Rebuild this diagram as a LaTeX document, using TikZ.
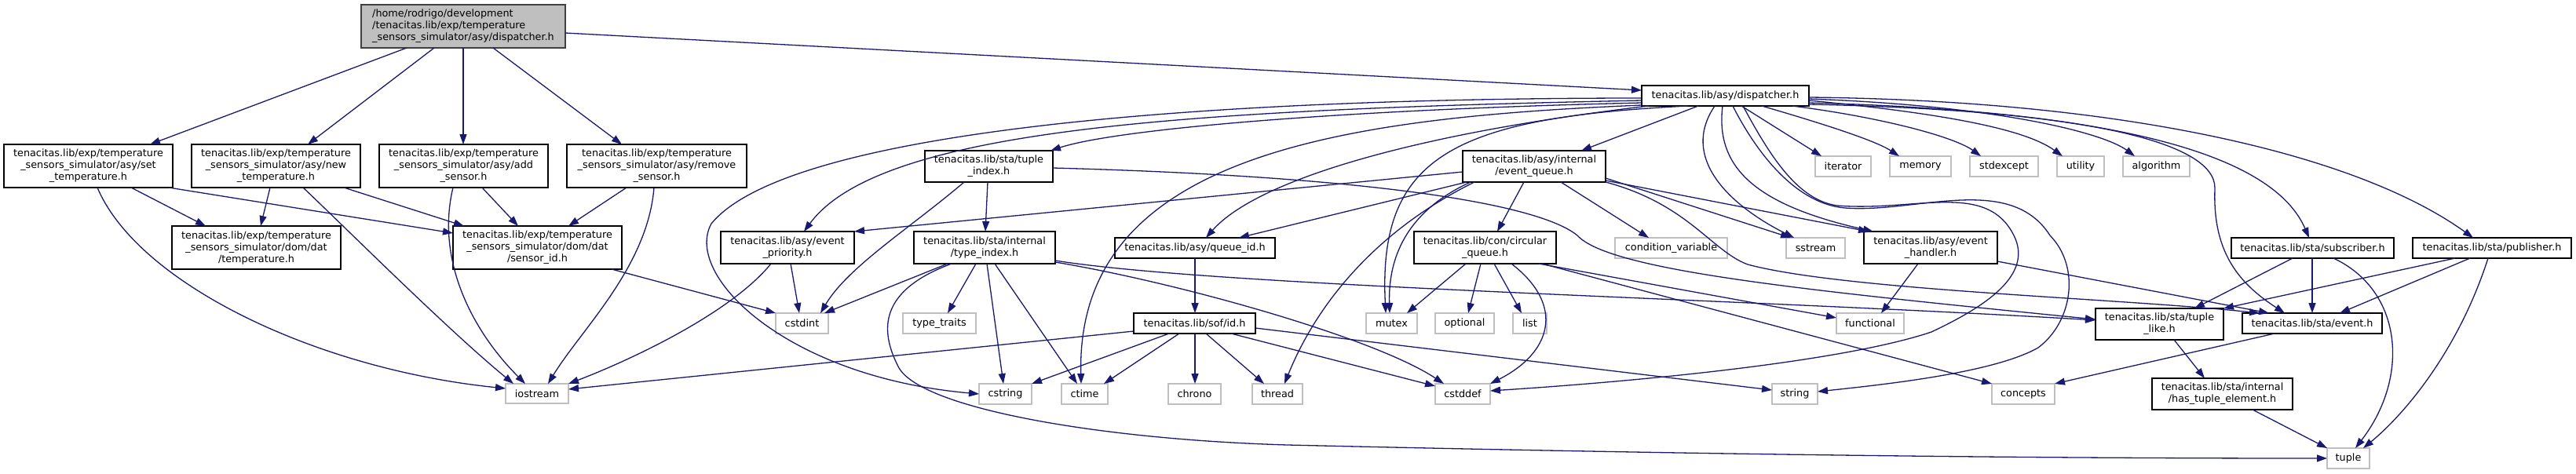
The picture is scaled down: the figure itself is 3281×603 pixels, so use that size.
\documentclass[tikz,border=0pt]{standalone}
\usepackage{fontspec}
\setmainfont{DejaVu Sans}
\usetikzlibrary{arrows.meta}
\definecolor{edgec}{HTML}{191970}
\definecolor{sysb}{HTML}{BFBFBF}
\definecolor{rootf}{HTML}{BFBFBF}
\definecolor{boxb}{HTML}{404040}
\begin{document}
\begin{tikzpicture}[x=1pt,y=-1pt,
  base/.style={inner sep=0pt, outer sep=0pt, line width=1.4pt, fill=white, align=center, font=\fontsize{12.8pt}{15pt}\selectfont},
  box/.style={base, draw=black},
  sys/.style={base, draw=sysb},
  rootbox/.style={base, draw=boxb, fill=rootf, align=left},
  edge/.style={draw=edgec, line width=1.3pt, -{Triangle[length=13pt,width=9pt]}}]
\fill[white] (0,0) rectangle (3281,603);
\useasboundingbox (0,0) rectangle (3281,603);
% nodes
\node[rootbox, minimum width=260pt, minimum height=55pt] (R) at (590,33.5) {/home/rodrigo/development\\/tenacitas.lib/exp/temperature\\\_sensors\_simulator/asy/dispatcher.h};
\node[box, minimum width=215pt, minimum height=55pt] (A1) at (112.5,211.5) {tenacitas.lib/exp/temperature\\\_sensors\_simulator/asy/set\\\_temperature.h};
\node[box, minimum width=215pt, minimum height=55pt] (A2) at (351.5,211.5) {tenacitas.lib/exp/temperature\\\_sensors\_simulator/asy/new\\\_temperature.h};
\node[box, minimum width=215pt, minimum height=55pt] (A3) at (590.5,211.5) {tenacitas.lib/exp/temperature\\\_sensors\_simulator/asy/add\\\_sensor.h};
\node[box, minimum width=229pt, minimum height=55pt] (A4) at (836.5,211.5) {tenacitas.lib/exp/temperature\\\_sensors\_simulator/asy/remove\\\_sensor.h};
\node[box, minimum width=215pt, minimum height=55pt] (TEMP) at (326.5,315.5) {tenacitas.lib/exp/temperature\\\_sensors\_simulator/dom/dat\\/temperature.h};
\node[box, minimum width=215pt, minimum height=55pt] (SID) at (684.5,315.5) {tenacitas.lib/exp/temperature\\\_sensors\_simulator/dom/dat\\/sensor\_id.h};
\node[sys, minimum width=80pt, minimum height=25pt] (IOS) at (684,501.5) {iostream};
\node[box, minimum width=163pt, minimum height=40pt] (TIDX) at (1259.5,212) {tenacitas.lib/sta/tuple\\\_index.h};
\node[box, minimum width=170pt, minimum height=41pt] (EPRI) at (1003,315.5) {tenacitas.lib/asy/event\\\_priority.h};
\node[box, minimum width=180pt, minimum height=41pt] (TYPIDX) at (1254,315.5) {tenacitas.lib/sta/internal\\/type\_index.h};
\node[box, minimum width=204pt, minimum height=26pt] (QID) at (1522,316) {tenacitas.lib/asy/queue\_id.h};
\node[sys, minimum width=67pt, minimum height=26pt] (CSTDINT) at (1021.5,412) {cstdint};
\node[sys, minimum width=93pt, minimum height=26pt] (TYPETR) at (1196.5,412) {type\_traits};
\node[box, minimum width=155pt, minimum height=26pt] (SOFID) at (1521.5,412) {tenacitas.lib/sof/id.h};
\node[sys, minimum width=67pt, minimum height=26pt] (CSTRING) at (1280.5,502) {cstring};
\node[sys, minimum width=59pt, minimum height=26pt] (CTIME) at (1381.5,502) {ctime};
\node[sys, minimum width=67pt, minimum height=26pt] (CHRONO) at (1521.5,502) {chrono};
\node[sys, minimum width=64pt, minimum height=26pt] (THREAD) at (1627,502) {thread};
\node[box, minimum width=213pt, minimum height=26pt] (D) at (2197.5,122) {tenacitas.lib/asy/dispatcher.h};
\node[box, minimum width=182pt, minimum height=40pt] (EQ) at (1954,212) {tenacitas.lib/asy/internal\\/event\_queue.h};
\node[sys, minimum width=71pt, minimum height=26pt] (ITER) at (2347.5,212) {iterator};
\node[sys, minimum width=78pt, minimum height=26pt] (MEM) at (2446,212) {memory};
\node[sys, minimum width=87pt, minimum height=26pt] (STDEXC) at (2552.5,212) {stdexcept};
\node[sys, minimum width=60pt, minimum height=26pt] (UTIL) at (2650,212) {utility};
\node[sys, minimum width=85pt, minimum height=26pt] (ALGO) at (2746.5,212) {algorithm};
\node[box, minimum width=181pt, minimum height=41pt] (CQ) at (1891.5,315.5) {tenacitas.lib/con/circular\\\_queue.h};
\node[sys, minimum width=143pt, minimum height=26pt] (CONDV) at (2128.5,316) {condition\_variable};
\node[sys, minimum width=75pt, minimum height=26pt] (SSTREAM) at (2312.5,316) {sstream};
\node[box, minimum width=170pt, minimum height=41pt] (EH) at (2459,315.5) {tenacitas.lib/asy/event\\\_handler.h};
\node[sys, minimum width=65pt, minimum height=26pt] (MUTEX) at (1772.5,412) {mutex};
\node[sys, minimum width=75pt, minimum height=26pt] (OPT) at (1865.5,412) {optional};
\node[sys, minimum width=43pt, minimum height=26pt] (LIST) at (1948.5,412) {list};
\node[sys, minimum width=86pt, minimum height=26pt] (FUNC) at (2382,412) {functional};
\node[sys, minimum width=70pt, minimum height=26pt] (CSTDDEF) at (1863,502) {cstddef};
\node[sys, minimum width=58pt, minimum height=26pt] (STRING) at (2286,502) {string};
\node[box, minimum width=207pt, minimum height=26pt] (SUB) at (2945.5,316) {tenacitas.lib/sta/subscriber.h};
\node[box, minimum width=202pt, minimum height=26pt] (PUB) at (3174,316) {tenacitas.lib/sta/publisher.h};
\node[box, minimum width=163pt, minimum height=40pt] (TL) at (2750.5,413) {tenacitas.lib/sta/tuple\\\_like.h};
\node[box, minimum width=178pt, minimum height=26pt] (EV) at (2945,412) {tenacitas.lib/sta/event.h};
\node[sys, minimum width=80pt, minimum height=26pt] (CONCEPTS) at (2577,502) {concepts};
\node[box, minimum width=179pt, minimum height=40pt] (HTE) at (2830.5,502) {tenacitas.lib/sta/internal\\/has\_tuple\_element.h};
\node[sys, minimum width=54pt, minimum height=26pt] (TUPLE) at (2991,584) {tuple};
% root edges
\draw[edge] (518,0 |- R.south) -- (191,0 |- A1.north);
\draw[edge] (553,0 |- R.south) -- (392,0 |- A2.north);
\draw[edge] (590,0 |- R.south) -- (590,0 |- A3.north);
\draw[edge] (628,0 |- R.south) -- (792,0 |- A4.north);
\draw[edge] (R.east |- 0,42) -- (D.west |- 0,115);
% app headers
\draw[edge] (167,0 |- A1.south) -- (262,0 |- TEMP.north);
\draw[edge] (215,0 |- A1.south) -- (SID.west |- 0,297);
\draw[edge] (124,0 |- A1.south) .. controls (175,360) and (400,470) .. (IOS.west |- 0,495);
\draw[edge] (344,0 |- A2.south) -- (332,0 |- TEMP.north);
\draw[edge] (386,0 |- A2.south) .. controls (440,290) and (570,420) .. (654,0 |- IOS.north);
\draw[edge] (438,0 |- A2.south) -- (591,0 |- SID.north);
\draw[edge] (614,0 |- A3.south) -- (660,0 |- SID.north);
\draw[edge] (577,0 |- A3.south) .. controls (555,330) and (600,420) .. (669,0 |- IOS.north);
\draw[edge] (798,0 |- A4.south) -- (724,0 |- SID.north);
\draw[edge] (833,0 |- A4.south) .. controls (825,340) and (740,420) .. (698,0 |- IOS.north);
\draw[edge] (779,0 |- SID.south) -- (CSTDINT.north west);
\draw[edge] (982,0 |- EPRI.south) .. controls (930,400) and (800,460) .. (IOS.north east);
\draw[edge] (SOFID.west |- 0,422) -- (IOS.east |- 0,496);
\draw[edge] (1007,0 |- EPRI.south) -- (1018,0 |- CSTDINT.north);
% dispatcher to the left
\draw[edge] (D.west |- 0,128) .. controls (1500,140) and (1120,165) .. (1024,0 |- EPRI.north);
\draw[edge] (D.west |- 0,125) .. controls (1500,125) and (1000,170) .. (906,285) .. controls (870,350) and (1000,480) .. (CSTRING.west |- 0,502);
\draw[edge] (D.west |- 0,131) .. controls (1700,140) and (1420,165) .. (1338,0 |- TIDX.north);
\draw[edge] (D.west |- 0,134) .. controls (1700,150) and (1370,200) .. (1377,0 |- CTIME.north);
\draw[edge] (2100,0 |- D.south) .. controls (1800,170) and (1600,230) .. (1536,0 |- QID.north);
\draw[edge] (2163,0 |- D.south) -- (2014,0 |- EQ.north);
\draw[edge] (2150,0 |- D.south) .. controls (1850,150) and (1755,200) .. (1765,0 |- MUTEX.north);
% event queue
\draw[edge] (1873,0 |- EQ.south) .. controls (1790,270) and (1768,330) .. (1770,0 |- MUTEX.north);
\draw[edge] (1878,0 |- EQ.south) .. controls (1760,290) and (1680,380) .. (1636,0 |- THREAD.north);
\draw[edge] (EQ.west |- 0,219) -- (EPRI.north east);
\draw[edge] (1868,0 |- EQ.south) -- (1578,0 |- QID.north);
\draw[edge] (1941,0 |- EQ.south) -- (1907,0 |- CQ.north);
\draw[edge] (1988,0 |- EQ.south) -- (2100,0 |- CONDV.north);
\draw[edge] (EQ.east |- 0,227) -- (2281,0 |- SSTREAM.north);
\draw[edge] (EQ.east |- 0,230) -- (2380,0 |- EH.north);
\draw[edge] (EQ.east |- 0,232) .. controls (2150,260) and (2180,320) .. (2226,337) .. controls (2350,370) and (2700,380) .. (2878,0 |- EV.north);
% tuple index / type index
\draw[edge] (1258,0 |- TIDX.south) -- (1255,0 |- TYPIDX.north);
\draw[edge] (1228,0 |- TIDX.south) .. controls (1160,290) and (1080,340) .. (1045,0 |- CSTDINT.north);
\draw[edge] (TIDX.east |- 0,214) .. controls (1750,225) and (1960,260) .. (2009,300) .. controls (2050,345) and (2300,370) .. (TL.west |- 0,407);
\draw[edge] (TYPIDX.east |- 0,332) .. controls (1550,365) and (2200,380) .. (TL.west |- 0,408);
\draw[edge] (1207,0 |- TYPIDX.south) -- (1050,0 |- CSTDINT.north);
\draw[edge] (1243,0 |- TYPIDX.south) -- (1207,0 |- TYPETR.north);
\draw[edge] (1257,0 |- TYPIDX.south) -- (1278,0 |- CSTRING.north);
\draw[edge] (1267,0 |- TYPIDX.south) -- (1372,0 |- CTIME.north);
\draw[edge] (TYPIDX.east |- 0,334) .. controls (1500,360) and (1750,430) .. (1839,0 |- CSTDDEF.north);
\draw[edge] (1212,0 |- TYPIDX.south) .. controls (1120,370) and (1120,420) .. (1144,467) .. controls (1170,520) and (1400,560) .. (1640,567) .. controls (2200,580) and (2600,584) .. (TUPLE.west |- 0,584);
% queue id / sof id
\draw[edge] (1522,0 |- QID.south) -- (1522,0 |- SOFID.north);
\draw[edge] (1489,0 |- SOFID.south) -- (CSTRING.north east);
\draw[edge] (1502,0 |- SOFID.south) -- (1406,0 |- CTIME.north);
\draw[edge] (1522,0 |- SOFID.south) -- (1522,0 |- CHRONO.north);
\draw[edge] (1536,0 |- SOFID.south) -- (1610,0 |- THREAD.north);
\draw[edge] (1568,0 |- SOFID.south) -- (CSTDDEF.west |- 0,492);
\draw[edge] (SOFID.east |- 0,418) -- (STRING.west |- 0,497);
% circular queue
\draw[edge] (1867,0 |- CQ.south) -- (1792,0 |- MUTEX.north);
\draw[edge] (1886,0 |- CQ.south) -- (1870,0 |- OPT.north);
\draw[edge] (1903,0 |- CQ.south) -- (1938,0 |- LIST.north);
\draw[edge] (1925,0 |- CQ.south) .. controls (1995,390) and (1975,450) .. (CSTDDEF.north east);
\draw[edge] (1960,0 |- CQ.south) -- (FUNC.west |- 0,405);
\draw[edge] (1964,0 |- CQ.south) -- (CONCEPTS.north west);
% dispatcher to the right
\draw[edge] (2218,0 |- D.south) -- (2320,0 |- ITER.north);
\draw[edge] (2244,0 |- D.south) .. controls (2330,160) and (2390,180) .. (2419,0 |- MEM.north);
\draw[edge] (2283,0 |- D.south) .. controls (2400,150) and (2490,175) .. (2523,0 |- STDEXC.north);
\draw[edge] (D.east |- 0,128) .. controls (2480,145) and (2580,165) .. (2627,0 |- UTIL.north);
\draw[edge] (D.east |- 0,126) .. controls (2550,135) and (2680,170) .. (2719,0 |- ALGO.north);
\draw[edge] (D.east |- 0,131) .. controls (2650,140) and (2890,185) .. (2941,0 |- SUB.north);
\draw[edge] (D.east |- 0,124) .. controls (2700,128) and (3000,195) .. (3150,0 |- PUB.north);
\draw[edge] (D.east |- 0,133) .. controls (2650,140) and (2822,180) .. (2821,240) .. controls (2818,320) and (2850,360) .. (2910,0 |- EV.north);
\draw[edge] (2194,0 |- D.south) .. controls (2185,210) and (2230,260) .. (2386,0 |- EH.north);
\draw[edge] (2184,0 |- D.south) .. controls (2140,200) and (2200,260) .. (2285,0 |- SSTREAM.north);
\draw[edge] (2207,0 |- D.south) .. controls (2240,200) and (2290,260) .. (2350,265) .. controls (2440,272) and (2560,220) .. (2611,300) .. controls (2650,340) and (2640,410) .. (2596,443) .. controls (2540,475) and (2400,490) .. (STRING.east |- 0,499);
\draw[edge] (2220,0 |- D.south) .. controls (2255,200) and (2290,255) .. (2340,262) .. controls (2440,270) and (2530,230) .. (2565,300) .. controls (2590,350) and (2530,390) .. (2460,423) .. controls (2350,460) and (2100,485) .. (CSTDDEF.east |- 0,498);
% lower right
\draw[edge] (2443,0 |- EH.south) -- (2396,0 |- FUNC.north);
\draw[edge] (EH.east |- 0,333) -- (2890,0 |- EV.north);
\draw[edge] (2920,0 |- SUB.south) -- (2795,0 |- TL.north);
\draw[edge] (2945,0 |- SUB.south) -- (2945,0 |- EV.north);
\draw[edge] (2972,0 |- SUB.south) .. controls (3060,370) and (3070,480) .. (3000,0 |- TUPLE.north);
\draw[edge] (3127,0 |- PUB.south) -- (TL.north east);
\draw[edge] (3146,0 |- PUB.south) -- (2980,0 |- EV.north);
\draw[edge] (3169,0 |- PUB.south) .. controls (3130,450) and (3060,530) .. (3010,0 |- TUPLE.north);
\draw[edge] (2769,0 |- TL.south) -- (2808,0 |- HTE.north);
\draw[edge] (2897,0 |- EV.south) -- (CONCEPTS.north east);
\draw[edge] (2869,0 |- HTE.south) -- (TUPLE.north west);
\end{tikzpicture}
\end{document}
